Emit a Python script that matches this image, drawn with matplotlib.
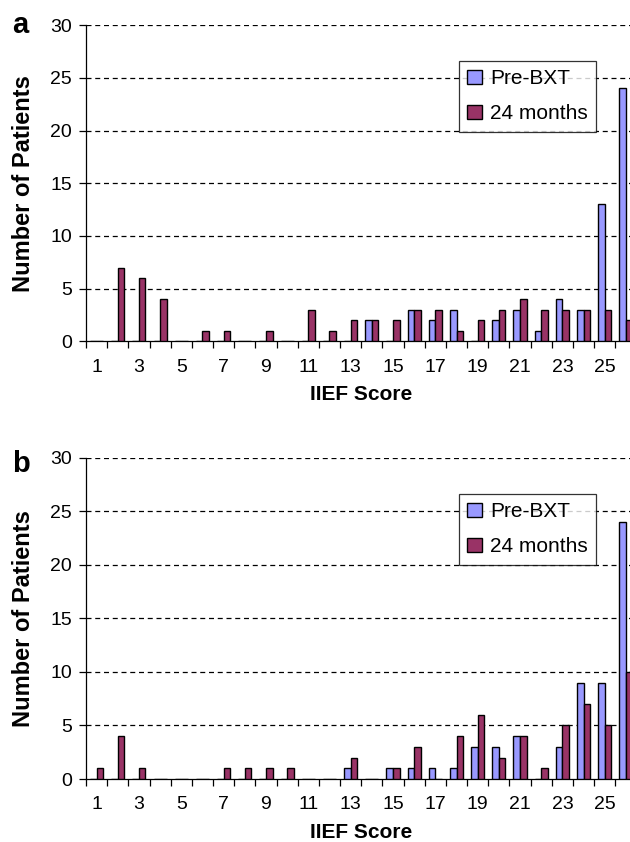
import numpy as np
import matplotlib
matplotlib.use("Agg")
import matplotlib.pyplot as plt

plt.rcParams['font.family'] = ['Liberation Sans', 'DejaVu Sans']

# IIEF score categories
scores = np.arange(1, 27)
tick_labels = [str(s) if s % 2 == 1 else '' for s in scores]

# panel a
pre_a = [0, 0, 0, 0, 0, 0, 0, 0, 0, 0, 0, 0, 0, 2, 0, 3, 2, 3, 0, 2, 3, 1, 4, 3, 13, 24]
m24_a = [0, 7, 6, 4, 0, 1, 1, 0, 1, 0, 3, 1, 2, 2, 2, 3, 3, 1, 2, 3, 4, 3, 3, 3, 3, 2]

# panel b
pre_b = [0, 0, 0, 0, 0, 0, 0, 0, 0, 0, 0, 0, 1, 0, 1, 1, 1, 1, 3, 3, 4, 0, 3, 9, 9, 24]
m24_b = [1, 4, 1, 0, 0, 0, 1, 1, 1, 1, 0, 0, 2, 0, 1, 3, 0, 4, 6, 2, 4, 1, 5, 7, 5, 10]

col_pre = '#9999FF'
col_24 = '#993366'

W, H = 630, 842
fig = plt.figure(figsize=(W / 100, H / 100), dpi=100)

left = 86 / W
right_px = 636.5
width = (right_px - 86) / W
# letter, pre, 24m, axes top px, axes bottom px, legend top-left px, letter baseline px
panels = [
    ('a', pre_a, m24_a, 25, 341.5, (459, 61), 33),
    ('b', pre_b, m24_b, 457.5, 779, (459, 494), 471.5),
]

bw = 0.31
for letter, pre, m24, top, bot, leg, base in panels:
    hpx = bot - top
    ax = fig.add_axes([left, 1 - bot / H, width, hpx / H])
    ax.bar(scores - bw / 2, pre, bw, color=col_pre, edgecolor='black',
           linewidth=1.0, label='Pre-BXT', zorder=3)
    ax.bar(scores + bw / 2, m24, bw, color=col_24, edgecolor='black',
           linewidth=1.0, label='24 months', zorder=3)
    ax.set_xlim(0.5, 26.5)
    ax.set_ylim(0, 30)
    ax.set_yticks(np.arange(0, 31, 5))
    for y in range(5, 31, 5):
        ax.axhline(y, color='black', lw=0.9, ls=(0, (4, 3)), zorder=1)
    # ticks at category boundaries, labels at centres
    ax.set_xticks(np.arange(0.5, 26.6, 1))
    ax.set_xticklabels([])
    ax.set_xticks(scores, minor=True)
    ax.set_xticklabels(tick_labels, minor=True)
    ax.tick_params(axis='x', which='major', length=5, width=0.9, direction='out')
    ax.tick_params(axis='x', which='minor', length=0, pad=12.5, labelsize=14)
    ax.tick_params(axis='y', length=5, width=0.9, labelsize=14, pad=5)
    for s in ['top', 'right']:
        ax.spines[s].set_visible(False)
    for s in ['left', 'bottom']:
        ax.spines[s].set_linewidth(0.9)
    ax.set_ylabel('Number of Patients', fontsize=17, fontweight='bold')
    ax.yaxis.set_label_coords(-(86 - 35) / (right_px - 86), 0.5)
    ax.set_xlabel('IIEF Score', fontsize=15, fontweight='bold')
    ax.xaxis.set_label_coords((361 - 86) / (right_px - 86), -44 / hpx)
    fig.text(20.5 / W, 1 - base / H, letter, fontsize=21, fontweight='bold',
             ha='center', va='baseline')
    x0, y0 = leg
    lg = ax.legend(loc='upper left', bbox_to_anchor=(x0 / W, 1 - y0 / H),
                   bbox_transform=fig.transFigure, fontsize=15, frameon=True,
                   fancybox=False, edgecolor='black', handlelength=0.7,
                   handleheight=0.7, handletextpad=0.4, borderpad=0.4,
                   labelspacing=0.77, borderaxespad=0)
    lg.get_frame().set_linewidth(0.9)
    lg.set_zorder(5)

fig.savefig('out.png', dpi=100)
